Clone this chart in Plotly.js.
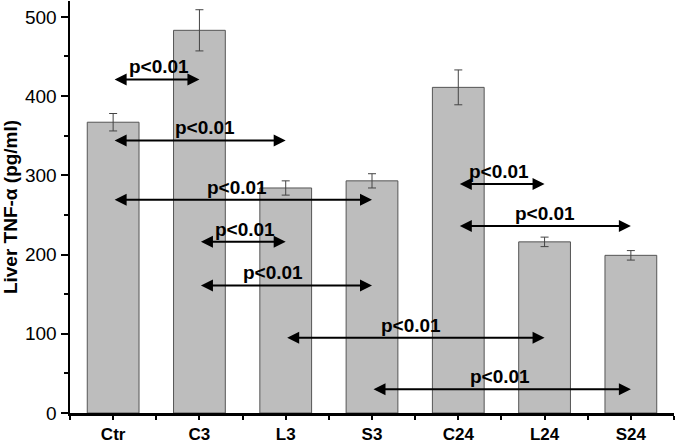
<!DOCTYPE html>
<html>
<head>
<meta charset="utf-8">
<script src="https://cdn.plot.ly/plotly-3.0.1.min.js"></script>
<style>
  html, body { margin: 0; padding: 0; background: #fff; }
  #chart { width: 676px; height: 444px; }
</style>
</head>
<body>
<div id="chart"></div>
<script>
// bar data
const groups = ['Ctr', 'C3', 'L3', 'S3', 'C24', 'L24', 'S24'];
const tnfMean = [367, 483, 284, 293, 411, 216, 199];
const tnfErr = [11, 26, 9, 9, 22, 6, 6];

// significance arrows: from group index, to group index, height, label position
const cmpFrom = [0, 0, 0, 1, 1, 2, 3, 4, 4];
const cmpTo = [1, 2, 3, 2, 3, 5, 6, 5, 6];
const cmpY = [421, 344, 269, 216, 161, 95, 30, 289, 236];
const cmpLabelX = [0.53, 1.07, 1.44, 1.53, 1.85, 3.45, 4.48, 4.47, 5.01];
const cmpText = 'p<0.01';

const xIdx = groups.map((g, i) => i);

const barTrace = {
  type: 'bar',
  x: xIdx,
  y: tnfMean,
  width: 0.6,
  marker: {
    color: '#bdbdbd',
    line: { color: '#555', width: 1 }
  },
  error_y: {
    type: 'data',
    array: tnfErr,
    visible: true,
    color: '#444',
    thickness: 1,
    width: 4
  },
  hoverinfo: 'skip'
};

const annotations = [];
cmpFrom.forEach((from, i) => {
  annotations.push({
    x: cmpTo[i], y: cmpY[i],
    ax: from, ay: cmpY[i],
    xref: 'x', yref: 'y', axref: 'x', ayref: 'y',
    text: '',
    showarrow: true,
    arrowhead: 2,
    startarrowhead: 2,
    arrowside: 'end+start',
    arrowsize: 1.2,
    startarrowsize: 1.2,
    arrowwidth: 2,
    arrowcolor: '#000',
    standoff: 0,
    startstandoff: 0
  });
  annotations.push({
    x: cmpLabelX[i], y: cmpY[i],
    xref: 'x', yref: 'y',
    text: '<b>' + cmpText + '</b>',
    showarrow: false,
    xanchor: 'center',
    yanchor: 'bottom',
    yshift: 0,
    font: { family: 'Liberation Sans, Arial, sans-serif', size: 19, color: '#000' }
  });
});

const layout = {
  width: 676,
  height: 444,
  margin: { l: 70, r: 2, t: 1, b: 31 },
  paper_bgcolor: '#fff',
  plot_bgcolor: '#fff',
  showlegend: false,
  font: { family: 'Liberation Sans, Arial, sans-serif', color: '#000' },
  xaxis: {
    type: 'linear',
    range: [-0.5, 6.5],
    tickvals: xIdx,
    ticktext: groups.map((g) => '<b>' + g + '</b>'),
    tickfont: { size: 17 },
    ticks: 'outside',
    ticklen: 4,
    tickwidth: 2,
    tickcolor: '#000',
    minor: { tick0: 0.5, dtick: 1, ticks: 'outside', ticklen: 4, tickwidth: 2, tickcolor: '#000' },
    showline: true,
    linecolor: '#000',
    linewidth: 2.5,
    showgrid: false,
    zeroline: false,
    fixedrange: true
  },
  yaxis: {
    range: [0, 520],
    tickvals: [0, 100, 200, 300, 400, 500],
    tickfont: { size: 19 },
    ticks: 'outside',
    ticklen: 7,
    tickwidth: 2,
    tickcolor: '#000',
    minor: { tick0: 50, dtick: 100, ticks: 'outside', ticklen: 4, tickwidth: 2, tickcolor: '#000' },
    showline: true,
    linecolor: '#000',
    linewidth: 2.5,
    showgrid: false,
    zeroline: false,
    title: { text: '<b>Liver TNF-α (pg/ml)</b>', font: { size: 19 }, standoff: 4 },
    fixedrange: true
  },
  annotations: annotations
};

Plotly.newPlot('chart', [barTrace], layout, { displayModeBar: false, staticPlot: true });
</script>
</body>
</html>
